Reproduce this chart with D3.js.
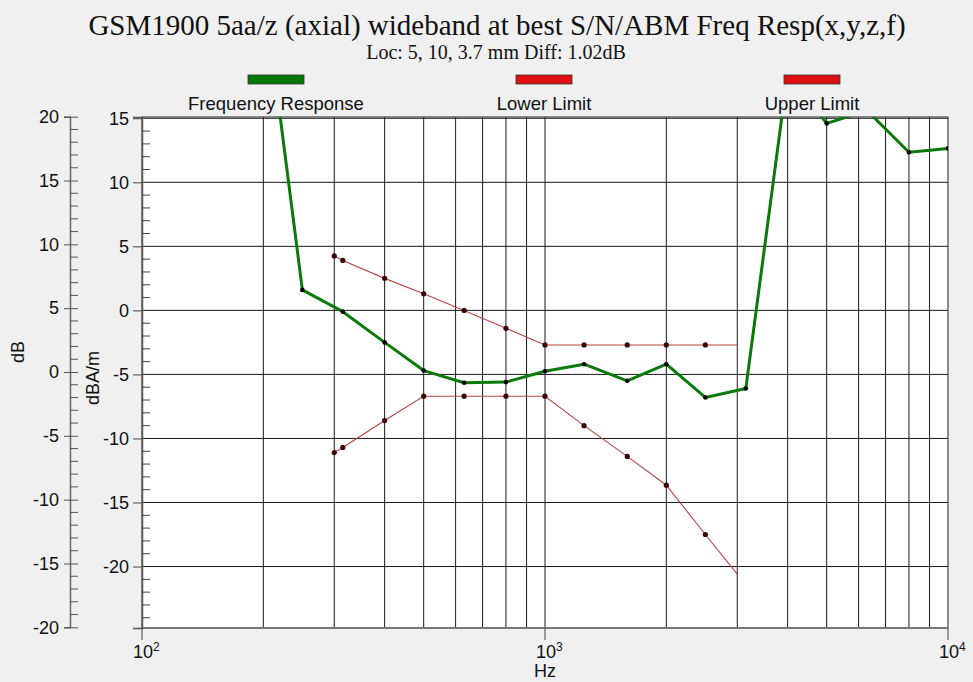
<!DOCTYPE html>
<html>
<head>
<meta charset="utf-8">
<script src="https://cdn.jsdelivr.net/npm/d3@7"></script>
<style>
  html, body { margin: 0; padding: 0; background: #f0f0f0; }
  svg { display: block; }
  .sans { font-family: "Liberation Sans", Arial, sans-serif; fill: #111; }
  .serif { font-family: "Liberation Serif", "Times New Roman", serif; fill: #111; }
</style>
</head>
<body>
<svg id="chart" width="973" height="682"></svg>
<script>
// Frequency response of the probe (dBA/m) at 1/3-octave centres
const respFreq = [200, 250, 315, 400, 500, 630, 800, 1000, 1250, 1600, 2000, 2500, 3150, 4000, 5000, 6300, 8000, 10000];
const respVal  = [25.4, 1.6, -0.1, -2.5, -4.7, -5.65, -5.6, -4.75, -4.2, -5.5, -4.2, -6.8, -6.1, 18.5, 14.6, 15.6, 12.35, 12.65];

// Tolerance mask (dBA/m)
const limitFreq  = [300, 315, 400, 500, 630, 800, 1000, 1250, 1600, 2000, 2500, 3000];
const upperLimit = [4.25, 3.9, 2.5, 1.3, 0.0, -1.4, -2.7, -2.7, -2.7, -2.7, -2.7, -2.7];
const lowerLimit = [-11.1, -10.7, -8.6, -6.7, -6.7, -6.7, -6.7, -9.0, -11.4, -13.65, -17.5, -20.6];

// Axis ticks
const xDecades   = [100, 1000, 10000];
const xGridFreqs = [200, 300, 400, 500, 600, 700, 800, 900, 1000, 2000, 3000, 4000, 5000, 6000, 7000, 8000, 9000];
const rightTicks = [15, 10, 5, 0, -5, -10, -15, -20];
const leftTicks  = [20, 15, 10, 5, 0, -5, -10, -15, -20];

const titleText    = "GSM1900 5aa/z (axial) wideband at best S/N/ABM Freq Resp(x,y,z,f)";
const subtitleText = "Loc: 5, 10, 3.7 mm Diff: 1.02dB";
const legendItems  = [
  { label: "Frequency Response", color: "#087808" },
  { label: "Lower Limit", color: "#e01010" },
  { label: "Upper Limit", color: "#e01010" }
];

const svg = d3.select("#chart");
const plot = { left: 142, right: 948, top: 117, bottom: 628 };

const x = d3.scaleLog().domain([100, 10000]).range([plot.left, plot.right]);
const y = d3.scaleLinear().domain([-24.8, 15.1]).range([plot.bottom, plot.top]);      // dBA/m
const yLeft = d3.scaleLinear().domain([-20, 20]).range([627.3, 116.7]);               // dB

// plain hyphen-minus labels
const plainInt = d => String(d);

// Title block
svg.append("text").attr("class", "serif")
  .attr("x", 497).attr("y", 35).attr("text-anchor", "middle")
  .style("font-size", "29px").text(titleText);
svg.append("text").attr("class", "serif")
  .attr("x", 496).attr("y", 59).attr("text-anchor", "middle")
  .style("font-size", "20px").text(subtitleText);

// Legend
const legendX = [276, 544, 812];
legendItems.forEach((d, i) => {
  svg.append("rect")
    .attr("x", legendX[i] - 28).attr("y", 75).attr("width", 56).attr("height", 9)
    .attr("fill", d.color).attr("stroke", "#333").attr("stroke-width", 0.8);
  svg.append("text").attr("class", "sans")
    .attr("x", legendX[i]).attr("y", 110).attr("text-anchor", "middle")
    .style("font-size", "18.5px").text(d.label);
});

// Plot background
svg.append("rect")
  .attr("x", plot.left).attr("y", plot.top)
  .attr("width", plot.right - plot.left).attr("height", plot.bottom - plot.top)
  .attr("fill", "#fff");

// Grid
const grid = svg.append("g").attr("stroke", "#1a1a1a").attr("stroke-width", 1);
grid.selectAll("line.v").data(xGridFreqs).join("line")
  .attr("x1", d => x(d)).attr("x2", d => x(d))
  .attr("y1", plot.top).attr("y2", plot.bottom);
grid.selectAll("line.h").data(rightTicks).join("line")
  .attr("x1", plot.left).attr("x2", plot.right)
  .attr("y1", d => y(d)).attr("y2", d => y(d));

// Plot frame
svg.append("rect")
  .attr("x", plot.left).attr("y", plot.top)
  .attr("width", plot.right - plot.left).attr("height", plot.bottom - plot.top)
  .attr("fill", "none").attr("stroke", "#222").attr("stroke-width", 1);
svg.append("line")
  .attr("x1", plot.left).attr("x2", plot.right)
  .attr("y1", plot.bottom).attr("y2", plot.bottom)
  .attr("stroke", "#777").attr("stroke-width", 2);

// Right (dBA/m) axis drawn along the plot's left edge
const rAxis = d3.axisLeft(y).tickValues(rightTicks).tickSize(9).tickPadding(4)
  .tickFormat(plainInt);
const gR = svg.append("g").attr("transform", `translate(${plot.left},0)`).call(rAxis);
gR.select(".domain").attr("stroke", "#555").attr("stroke-width", 1.5);
gR.selectAll(".tick line").attr("stroke", "#444");
gR.selectAll(".tick text").attr("class", "sans").style("font-size", "18px").attr("fill", "#111");
const rMinor = d3.range(-24, 16, 1).filter(v => v % 5 !== 0);
gR.selectAll("line.minor").data(rMinor).join("line")
  .attr("class", "minor")
  .attr("x1", 0).attr("x2", 8)
  .attr("y1", d => y(d)).attr("y2", d => y(d))
  .attr("stroke", "#444");

// Left (dB) axis
const lAxis = d3.axisLeft(yLeft).tickValues(leftTicks).tickSize(6).tickPadding(5)
  .tickFormat(plainInt);
const gL = svg.append("g").attr("transform", "translate(70,0)").call(lAxis);
gL.select(".domain").attr("stroke", "#666").attr("stroke-width", 1.5);
gL.selectAll(".tick line").attr("stroke", "#555").attr("x2", -6).attr("x1", 8);
gL.selectAll(".tick text").attr("class", "sans").style("font-size", "18px").attr("fill", "#111");
const lMinor = d3.range(-19, 20, 1).filter(v => v % 5 !== 0);
gL.selectAll("line.minor").data(lMinor).join("line")
  .attr("class", "minor")
  .attr("x1", 0).attr("x2", 8)
  .attr("y1", d => yLeft(d)).attr("y2", d => yLeft(d))
  .attr("stroke", "#555");

// Bottom axis: decade ticks with power-of-ten labels
const gX = svg.append("g");
gX.selectAll("line").data(xDecades).join("line")
  .attr("x1", d => x(d)).attr("x2", d => x(d))
  .attr("y1", plot.bottom).attr("y2", plot.bottom + 12)
  .attr("stroke", "#444");
const xl = gX.selectAll("text").data(xDecades).join("text")
  .attr("class", "sans")
  .attr("x", d => x(d) - 9).attr("y", 658)
  .style("font-size", "18px");
xl.append("tspan").text("10");
xl.append("tspan").attr("dy", -7).style("font-size", "12px").text(d => Math.round(Math.log10(d)));

// Axis titles
svg.append("text").attr("class", "sans")
  .attr("x", 545).attr("y", 677).attr("text-anchor", "middle")
  .style("font-size", "18px").text("Hz");
svg.append("text").attr("class", "sans")
  .attr("transform", "translate(24,352) rotate(-90)").attr("text-anchor", "middle")
  .style("font-size", "18px").text("dB");
svg.append("text").attr("class", "sans")
  .attr("transform", "translate(99,378) rotate(-90)").attr("text-anchor", "middle")
  .style("font-size", "18px").text("dBA/m");

// Data layer, clipped to the plot area
svg.append("clipPath").attr("id", "plotClip")
  .append("rect")
  .attr("x", plot.left).attr("y", plot.top)
  .attr("width", plot.right - plot.left).attr("height", plot.bottom - plot.top);
const layer = svg.append("g").attr("clip-path", "url(#plotClip)");

const line = d3.line().x(d => x(d[0])).y(d => y(d[1]));

function drawLimit(vals) {
  const pts = limitFreq.map((f, i) => [f, vals[i]]);
  layer.append("path").datum(pts)
    .attr("d", line).attr("fill", "none")
    .attr("stroke", "#b84545").attr("stroke-width", 1.1);
  layer.selectAll(null).data(pts.slice(0, -1)).join("circle")
    .attr("cx", d => x(d[0])).attr("cy", d => y(d[1])).attr("r", 2.6)
    .attr("fill", "#3a0505");
}
drawLimit(upperLimit);
drawLimit(lowerLimit);

const respPts = respFreq.map((f, i) => [f, respVal[i]]);
layer.append("path").datum(respPts)
  .attr("d", line).attr("fill", "none")
  .attr("stroke", "#0b7a0b").attr("stroke-width", 3)
  .attr("stroke-linejoin", "round");
layer.selectAll(null).data(respPts).join("circle")
  .attr("cx", d => x(d[0])).attr("cy", d => y(d[1])).attr("r", 2.3)
  .attr("fill", "#000");
</script>
</body>
</html>
